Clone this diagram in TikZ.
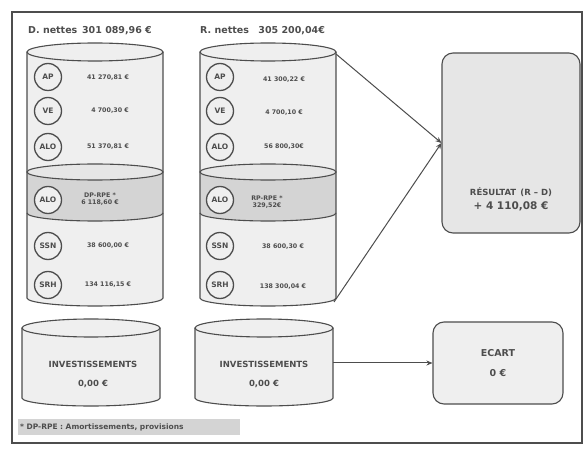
\documentclass[tikz,border=0pt]{standalone}
\usepackage{fontspec}
\setmainfont{DejaVu Sans}
\usetikzlibrary{arrows.meta,positioning,calc}
\definecolor{Ink}{HTML}{4D4D4D}
\definecolor{Body}{HTML}{EFEFEF}
\definecolor{Band}{HTML}{D4D4D4}
\definecolor{Card}{HTML}{E6E6E6}
\tikzset{
  tag/.style={circle,draw=Ink,line width=1.3pt,fill=Body,minimum size=27pt,inner sep=0pt,font=\fontsize{7.5}{8}\selectfont\bfseries,text=Ink},
  amt/.style={font=\fontsize{6.3}{7.5}\selectfont\bfseries,text=Ink,align=center},
  ttl/.style={font=\fontsize{9.5}{10}\selectfont\bfseries,text=Ink,anchor=west,inner sep=0pt},
  card/.style={draw=Ink,line width=1.1pt,rounded corners=11pt,fill=Card},
  big/.style={font=\fontsize{8.5}{10}\selectfont\bfseries,text=Ink,align=center},
  arr/.style={-{Stealth[length=6pt,width=5pt]},line width=1pt,draw=Ink},
  cyl/.style={draw=Ink,line width=1.1pt},
}
\begin{document}
\begin{tikzpicture}[x=1pt,y=-1pt]
 \useasboundingbox (0,0) rectangle (587,449);
 \fill[white] (0,0) rectangle (587,449);
 \draw[Ink,line width=1.5pt] (12,12) rectangle (582,443);
 % drums
 \foreach \cx in {95,268}{
   \fill[Body] (\cx-68,52) rectangle (\cx+68,298);
   \fill[Body] (\cx,298) ellipse[x radius=68,y radius=8];
   \fill[Band] (\cx-68,172) rectangle (\cx+68,213);
   \fill[Band] (\cx,213) ellipse[x radius=68,y radius=8];
   \draw[cyl,fill=Card] (\cx,172) ellipse[x radius=68,y radius=8];
   \draw[cyl] (\cx+68,213) arc[start angle=0,end angle=180,x radius=68,y radius=8];
   \draw[cyl] (\cx-68,52) -- (\cx-68,298) arc[start angle=180,end angle=0,x radius=68,y radius=8] -- (\cx+68,52);
   \draw[cyl,fill=Body] (\cx,52) ellipse[x radius=68,y radius=9];
 }
 \foreach \cx in {91,264}{
   \draw[cyl,fill=Body] (\cx-69,328) -- (\cx-69,398) arc[start angle=180,end angle=0,x radius=69,y radius=8] -- (\cx+69,328);
   \draw[cyl,fill=Body] (\cx,328) ellipse[x radius=69,y radius=9];
 }
 \node[ttl] (dTitle) at (28,31) {D. nettes\enspace 301 089,96 €};
 \node[ttl] (rTitle) at (200,31) {R. nettes\quad 305 200,04€};
 % depenses
 \node[tag] (dAP) at (48,77) {AP};
 \node[tag] (dVE) at (48,111) {VE};
 \node[tag] (dALO) at (48,147) {ALO};
 \node[tag] (dRPE) at (48,200) {ALO};
 \node[tag] (dSSN) at (48,246) {SSN};
 \node[tag] (dSRH) at (48,285) {SRH};
 \node[amt] at (108,78) {41 270,81 €};
 \node[amt] at (110,111) {4 700,30 €};
 \node[amt] at (108,147) {51 370,81 €};
 \node[amt] at (100,199) {DP-RPE *\\6 118,60 €};
 \node[amt] at (108,246) {38 600,00 €};
 \node[amt] at (108,285) {134 116,15 €};
 % recettes
 \node[tag] (rAP) at (220,77) {AP};
 \node[tag] (rVE) at (220,111) {VE};
 \node[tag] (rALO) at (220,147) {ALO};
 \node[tag] (rRPE) at (220,200) {ALO};
 \node[tag] (rSSN) at (220,246) {SSN};
 \node[tag] (rSRH) at (220,285) {SRH};
 \node[amt] at (284,80) {41 300,22 €};
 \node[amt] at (284,113) {4 700,10 €};
 \node[amt] at (284,147) {56 800,30€};
 \node[amt] at (267,202) {RP-RPE *\\329,52€};
 \node[amt] at (283,247) {38 600,30 €};
 \node[amt] at (283,287) {138 300,04 €};
 % investissements
 \node[big] (dInv) at (93,374) {INVESTISSEMENTS\\[9pt]0,00 €};
 \node[big] (rInv) at (264,374) {INVESTISSEMENTS\\[9pt]0,00 €};
 \coordinate (rInvE) at (333,363);
 % cards
 \node[card,minimum width=138pt,minimum height=180pt] (res) at (511,143) {};
 \node[big,below=-49pt of res] (resTxt) {RÉSULTAT\enspace (R – D)\\[4pt]\fontsize{10.5}{12}\selectfont + 4 110,08 €};
 \node[card,big,fill=Body,minimum width=130pt,minimum height=82pt] (ecart) at (498,363) {\fontsize{9.5}{10}\selectfont ECART\\[10pt]\fontsize{9.5}{10}\selectfont 0 €};
 \coordinate (rTopE) at (336,54);
 \coordinate (rBotE) at (334,302);
 \draw[arr] (rTopE) -- (res.west);
 \draw[arr] (rBotE) -- (res.west);
 \draw[arr] (rInvE) -- (ecart.west);
 % note
 \node[font=\fontsize{7.5}{8}\selectfont\bfseries,text=Ink,fill=Band,anchor=west,minimum height=16pt,inner sep=2pt,align=left,text width=218pt] (note) at (18,427) {* DP-RPE : Amortissements, provisions};
\end{tikzpicture}
\end{document}
